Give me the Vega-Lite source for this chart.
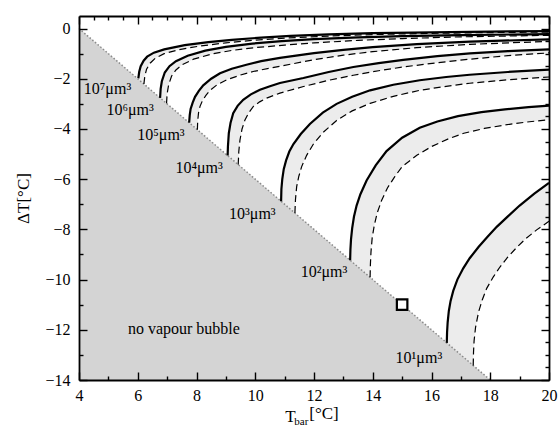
{
  "$schema": "https://vega.github.io/schema/vega-lite/v6.json",
  "width": 470,
  "height": 364,
  "autosize": "none",
  "padding": {"left": 79, "top": 16, "right": 10, "bottom": 47},
  "background": "white",
  "datasets": {
    "curves": [
      {"c":"S7","k":"s","T":6.02,"dT":-1.98},{"c":"S7","k":"s","T":6.05,"dT":-1.72},{"c":"S7","k":"s","T":6.1,"dT":-1.5},{"c":"S7","k":"s","T":6.2,"dT":-1.28},{"c":"S7","k":"s","T":6.32,"dT":-1.12},{"c":"S7","k":"s","T":6.55,"dT":-0.96},{"c":"S7","k":"s","T":6.9,"dT":-0.83},{"c":"S7","k":"s","T":7.6,"dT":-0.66},{"c":"S7","k":"s","T":8.4,"dT":-0.54},{"c":"S7","k":"s","T":9.2,"dT":-0.45},{"c":"S7","k":"s","T":10.2,"dT":-0.36},{"c":"S7","k":"s","T":11.2,"dT":-0.29},{"c":"S7","k":"s","T":12.5,"dT":-0.23},{"c":"S7","k":"s","T":14,"dT":-0.18},{"c":"S7","k":"s","T":16,"dT":-0.15},{"c":"S7","k":"s","T":18,"dT":-0.12},{"c":"S7","k":"s","T":20,"dT":-0.1},
      {"c":"D7","k":"d","T":6.21,"dT":-2.21},{"c":"D7","k":"d","T":6.24,"dT":-1.9},{"c":"D7","k":"d","T":6.3,"dT":-1.62},{"c":"D7","k":"d","T":6.42,"dT":-1.38},{"c":"D7","k":"d","T":6.6,"dT":-1.18},{"c":"D7","k":"d","T":6.9,"dT":-1.0},{"c":"D7","k":"d","T":7.4,"dT":-0.84},{"c":"D7","k":"d","T":8.1,"dT":-0.7},{"c":"D7","k":"d","T":9.0,"dT":-0.57},{"c":"D7","k":"d","T":10,"dT":-0.46},{"c":"D7","k":"d","T":11,"dT":-0.38},{"c":"D7","k":"d","T":12.5,"dT":-0.3},{"c":"D7","k":"d","T":14,"dT":-0.24},{"c":"D7","k":"d","T":16,"dT":-0.19},{"c":"D7","k":"d","T":18,"dT":-0.16},{"c":"D7","k":"d","T":20,"dT":-0.14},
      {"c":"S6","k":"s","T":6.76,"dT":-2.76},{"c":"S6","k":"s","T":6.78,"dT":-2.4},{"c":"S6","k":"s","T":6.82,"dT":-2.1},{"c":"S6","k":"s","T":6.92,"dT":-1.75},{"c":"S6","k":"s","T":7.08,"dT":-1.5},{"c":"S6","k":"s","T":7.3,"dT":-1.3},{"c":"S6","k":"s","T":7.7,"dT":-1.08},{"c":"S6","k":"s","T":8.3,"dT":-0.88},{"c":"S6","k":"s","T":9.0,"dT":-0.73},{"c":"S6","k":"s","T":9.9,"dT":-0.6},{"c":"S6","k":"s","T":10.9,"dT":-0.5},{"c":"S6","k":"s","T":12,"dT":-0.42},{"c":"S6","k":"s","T":13.5,"dT":-0.35},{"c":"S6","k":"s","T":15,"dT":-0.3},{"c":"S6","k":"s","T":17,"dT":-0.26},{"c":"S6","k":"s","T":20,"dT":-0.22},
      {"c":"D6","k":"d","T":6.98,"dT":-2.98},{"c":"D6","k":"d","T":7.0,"dT":-2.6},{"c":"D6","k":"d","T":7.05,"dT":-2.25},{"c":"D6","k":"d","T":7.15,"dT":-1.9},{"c":"D6","k":"d","T":7.3,"dT":-1.65},{"c":"D6","k":"d","T":7.5,"dT":-1.45},{"c":"D6","k":"d","T":7.9,"dT":-1.22},{"c":"D6","k":"d","T":8.5,"dT":-1.02},{"c":"D6","k":"d","T":9.2,"dT":-0.87},{"c":"D6","k":"d","T":10,"dT":-0.76},{"c":"D6","k":"d","T":11,"dT":-0.66},{"c":"D6","k":"d","T":12,"dT":-0.57},{"c":"D6","k":"d","T":13.5,"dT":-0.47},{"c":"D6","k":"d","T":15,"dT":-0.4},{"c":"D6","k":"d","T":17,"dT":-0.33},{"c":"D6","k":"d","T":20,"dT":-0.27},
      {"c":"S5","k":"s","T":7.75,"dT":-3.75},{"c":"S5","k":"s","T":7.77,"dT":-3.45},{"c":"S5","k":"s","T":7.8,"dT":-3.2},{"c":"S5","k":"s","T":7.87,"dT":-2.95},{"c":"S5","k":"s","T":7.95,"dT":-2.72},{"c":"S5","k":"s","T":8.08,"dT":-2.48},{"c":"S5","k":"s","T":8.23,"dT":-2.26},{"c":"S5","k":"s","T":8.5,"dT":-2.0},{"c":"S5","k":"s","T":8.8,"dT":-1.78},{"c":"S5","k":"s","T":9.2,"dT":-1.6},{"c":"S5","k":"s","T":9.7,"dT":-1.44},{"c":"S5","k":"s","T":10.2,"dT":-1.3},{"c":"S5","k":"s","T":10.84,"dT":-1.17},{"c":"S5","k":"s","T":12,"dT":-0.98},{"c":"S5","k":"s","T":13,"dT":-0.85},{"c":"S5","k":"s","T":14,"dT":-0.74},{"c":"S5","k":"s","T":15.5,"dT":-0.62},{"c":"S5","k":"s","T":17.3,"dT":-0.52},{"c":"S5","k":"s","T":20,"dT":-0.43},
      {"c":"D5","k":"d","T":8.03,"dT":-4.03},{"c":"D5","k":"d","T":8.04,"dT":-3.7},{"c":"D5","k":"d","T":8.07,"dT":-3.35},{"c":"D5","k":"d","T":8.12,"dT":-3.1},{"c":"D5","k":"d","T":8.2,"dT":-2.88},{"c":"D5","k":"d","T":8.32,"dT":-2.66},{"c":"D5","k":"d","T":8.46,"dT":-2.46},{"c":"D5","k":"d","T":8.7,"dT":-2.24},{"c":"D5","k":"d","T":9.03,"dT":-2.04},{"c":"D5","k":"d","T":9.5,"dT":-1.85},{"c":"D5","k":"d","T":9.93,"dT":-1.71},{"c":"D5","k":"d","T":10.84,"dT":-1.5},{"c":"D5","k":"d","T":12,"dT":-1.24},{"c":"D5","k":"d","T":13,"dT":-1.06},{"c":"D5","k":"d","T":14,"dT":-0.92},{"c":"D5","k":"d","T":15.5,"dT":-0.76},{"c":"D5","k":"d","T":17.3,"dT":-0.63},{"c":"D5","k":"d","T":20,"dT":-0.51},
      {"c":"S4","k":"s","T":9.06,"dT":-5.06},{"c":"S4","k":"s","T":9.07,"dT":-4.7},{"c":"S4","k":"s","T":9.1,"dT":-4.17},{"c":"S4","k":"s","T":9.16,"dT":-3.75},{"c":"S4","k":"s","T":9.25,"dT":-3.37},{"c":"S4","k":"s","T":9.4,"dT":-3.08},{"c":"S4","k":"s","T":9.59,"dT":-2.84},{"c":"S4","k":"s","T":9.85,"dT":-2.62},{"c":"S4","k":"s","T":10.16,"dT":-2.44},{"c":"S4","k":"s","T":10.5,"dT":-2.3},{"c":"S4","k":"s","T":10.84,"dT":-2.17},{"c":"S4","k":"s","T":11.64,"dT":-1.97},{"c":"S4","k":"s","T":12.5,"dT":-1.73},{"c":"S4","k":"s","T":13.34,"dT":-1.53},{"c":"S4","k":"s","T":14.2,"dT":-1.38},{"c":"S4","k":"s","T":15.04,"dT":-1.25},{"c":"S4","k":"s","T":16.2,"dT":-1.1},{"c":"S4","k":"s","T":17.31,"dT":-0.99},{"c":"S4","k":"s","T":18.6,"dT":-0.9},{"c":"S4","k":"s","T":20,"dT":-0.83},
      {"c":"D4","k":"d","T":9.42,"dT":-5.42},{"c":"D4","k":"d","T":9.44,"dT":-4.9},{"c":"D4","k":"d","T":9.48,"dT":-4.44},{"c":"D4","k":"d","T":9.55,"dT":-4.0},{"c":"D4","k":"d","T":9.65,"dT":-3.64},{"c":"D4","k":"d","T":9.78,"dT":-3.35},{"c":"D4","k":"d","T":9.93,"dT":-3.11},{"c":"D4","k":"d","T":10.15,"dT":-2.92},{"c":"D4","k":"d","T":10.39,"dT":-2.77},{"c":"D4","k":"d","T":10.84,"dT":-2.57},{"c":"D4","k":"d","T":11.64,"dT":-2.31},{"c":"D4","k":"d","T":12.5,"dT":-2.06},{"c":"D4","k":"d","T":13.34,"dT":-1.86},{"c":"D4","k":"d","T":14.2,"dT":-1.68},{"c":"D4","k":"d","T":15.04,"dT":-1.53},{"c":"D4","k":"d","T":16.2,"dT":-1.36},{"c":"D4","k":"d","T":17.31,"dT":-1.22},{"c":"D4","k":"d","T":18.6,"dT":-1.08},{"c":"D4","k":"d","T":20,"dT":-0.97},
      {"c":"S3","k":"s","T":10.88,"dT":-6.88},{"c":"S3","k":"s","T":10.89,"dT":-6.4},{"c":"S3","k":"s","T":10.92,"dT":-6.0},{"c":"S3","k":"s","T":10.97,"dT":-5.6},{"c":"S3","k":"s","T":11.05,"dT":-5.25},{"c":"S3","k":"s","T":11.16,"dT":-4.9},{"c":"S3","k":"s","T":11.3,"dT":-4.6},{"c":"S3","k":"s","T":11.55,"dT":-4.2},{"c":"S3","k":"s","T":11.86,"dT":-3.8},{"c":"S3","k":"s","T":12.3,"dT":-3.35},{"c":"S3","k":"s","T":12.77,"dT":-3.0},{"c":"S3","k":"s","T":13.3,"dT":-2.72},{"c":"S3","k":"s","T":13.91,"dT":-2.46},{"c":"S3","k":"s","T":14.7,"dT":-2.24},{"c":"S3","k":"s","T":15.6,"dT":-2.06},{"c":"S3","k":"s","T":16.5,"dT":-1.93},{"c":"S3","k":"s","T":17.3,"dT":-1.84},{"c":"S3","k":"s","T":18.6,"dT":-1.73},{"c":"S3","k":"s","T":20,"dT":-1.64},
      {"c":"D3","k":"d","T":11.35,"dT":-7.35},{"c":"D3","k":"d","T":11.37,"dT":-6.8},{"c":"D3","k":"d","T":11.41,"dT":-6.3},{"c":"D3","k":"d","T":11.48,"dT":-5.9},{"c":"D3","k":"d","T":11.58,"dT":-5.5},{"c":"D3","k":"d","T":11.75,"dT":-5.05},{"c":"D3","k":"d","T":11.98,"dT":-4.6},{"c":"D3","k":"d","T":12.3,"dT":-4.15},{"c":"D3","k":"d","T":12.77,"dT":-3.66},{"c":"D3","k":"d","T":13.3,"dT":-3.28},{"c":"D3","k":"d","T":13.91,"dT":-2.98},{"c":"D3","k":"d","T":14.7,"dT":-2.7},{"c":"D3","k":"d","T":15.6,"dT":-2.46},{"c":"D3","k":"d","T":16.5,"dT":-2.3},{"c":"D3","k":"d","T":17.3,"dT":-2.18},{"c":"D3","k":"d","T":18.6,"dT":-2.04},{"c":"D3","k":"d","T":20,"dT":-1.93},
      {"c":"S2","k":"s","T":13.23,"dT":-9.23},{"c":"S2","k":"s","T":13.24,"dT":-8.8},{"c":"S2","k":"s","T":13.26,"dT":-8.4},{"c":"S2","k":"s","T":13.3,"dT":-7.95},{"c":"S2","k":"s","T":13.36,"dT":-7.5},{"c":"S2","k":"s","T":13.45,"dT":-7.05},{"c":"S2","k":"s","T":13.58,"dT":-6.6},{"c":"S2","k":"s","T":13.79,"dT":-6.05},{"c":"S2","k":"s","T":14.1,"dT":-5.45},{"c":"S2","k":"s","T":14.47,"dT":-4.88},{"c":"S2","k":"s","T":15.0,"dT":-4.35},{"c":"S2","k":"s","T":15.6,"dT":-3.95},{"c":"S2","k":"s","T":16.2,"dT":-3.7},{"c":"S2","k":"s","T":16.9,"dT":-3.49},{"c":"S2","k":"s","T":17.7,"dT":-3.33},{"c":"S2","k":"s","T":18.5,"dT":-3.22},{"c":"S2","k":"s","T":19.3,"dT":-3.13},{"c":"S2","k":"s","T":20,"dT":-3.07},
      {"c":"D2","k":"d","T":13.91,"dT":-9.91},{"c":"D2","k":"d","T":13.92,"dT":-9.4},{"c":"D2","k":"d","T":13.94,"dT":-8.9},{"c":"D2","k":"d","T":13.98,"dT":-8.35},{"c":"D2","k":"d","T":14.05,"dT":-7.85},{"c":"D2","k":"d","T":14.15,"dT":-7.35},{"c":"D2","k":"d","T":14.3,"dT":-6.85},{"c":"D2","k":"d","T":14.5,"dT":-6.35},{"c":"D2","k":"d","T":14.75,"dT":-5.9},{"c":"D2","k":"d","T":15.0,"dT":-5.5},{"c":"D2","k":"d","T":15.5,"dT":-5.05},{"c":"D2","k":"d","T":16.0,"dT":-4.7},{"c":"D2","k":"d","T":16.6,"dT":-4.38},{"c":"D2","k":"d","T":17.1,"dT":-4.17},{"c":"D2","k":"d","T":17.8,"dT":-3.98},{"c":"D2","k":"d","T":18.5,"dT":-3.84},{"c":"D2","k":"d","T":19.2,"dT":-3.73},{"c":"D2","k":"d","T":20,"dT":-3.63},
      {"c":"S1","k":"s","T":16.52,"dT":-12.52},{"c":"S1","k":"s","T":16.53,"dT":-12.1},{"c":"S1","k":"s","T":16.55,"dT":-11.7},{"c":"S1","k":"s","T":16.59,"dT":-11.25},{"c":"S1","k":"s","T":16.65,"dT":-10.85},{"c":"S1","k":"s","T":16.74,"dT":-10.45},{"c":"S1","k":"s","T":16.88,"dT":-10.0},{"c":"S1","k":"s","T":17.08,"dT":-9.55},{"c":"S1","k":"s","T":17.3,"dT":-9.15},{"c":"S1","k":"s","T":17.6,"dT":-8.7},{"c":"S1","k":"s","T":17.9,"dT":-8.3},{"c":"S1","k":"s","T":18.22,"dT":-7.9},{"c":"S1","k":"s","T":18.6,"dT":-7.48},{"c":"S1","k":"s","T":19.0,"dT":-7.05},{"c":"S1","k":"s","T":19.5,"dT":-6.58},{"c":"S1","k":"s","T":20,"dT":-6.15},
      {"c":"D1","k":"d","T":17.42,"dT":-13.42},{"c":"D1","k":"d","T":17.43,"dT":-12.9},{"c":"D1","k":"d","T":17.45,"dT":-12.44},{"c":"D1","k":"d","T":17.5,"dT":-11.9},{"c":"D1","k":"d","T":17.6,"dT":-11.3},{"c":"D1","k":"d","T":17.73,"dT":-10.8},{"c":"D1","k":"d","T":17.88,"dT":-10.35},{"c":"D1","k":"d","T":18.1,"dT":-9.9},{"c":"D1","k":"d","T":18.33,"dT":-9.5},{"c":"D1","k":"d","T":18.6,"dT":-9.1},{"c":"D1","k":"d","T":18.9,"dT":-8.72},{"c":"D1","k":"d","T":19.2,"dT":-8.38},{"c":"D1","k":"d","T":19.58,"dT":-8.02},{"c":"D1","k":"d","T":20,"dT":-7.68}
    ],
    "tri": [{"T":4,"dT":0},{"T":18,"dT":-14}],
    "labels": [
      {"lab":"10⁷μm³","T":4.97,"dT":-2.42},
      {"lab":"10⁶μm³","T":5.74,"dT":-3.24},
      {"lab":"10⁵μm³","T":6.79,"dT":-4.24},
      {"lab":"10⁴μm³","T":8.09,"dT":-5.57},
      {"lab":"10³μm³","T":9.9,"dT":-7.37},
      {"lab":"10²μm³","T":12.34,"dT":-9.71},
      {"lab":"10¹μm³","T":15.57,"dT":-13.11}
    ]
  },
  "encoding": {
    "x": {"field":"T","type":"quantitative","scale":{"domain":[4,20],"nice":false,"zero":false},"axis":null},
    "y": {"field":"dT","type":"quantitative","scale":{"domain":[-14,0.5],"nice":false,"zero":false},"axis":null}
  },
  "layer": [
    {"data":{"name":"curves"},"transform":[{"filter":"datum.c==='S7'"}],"mark":{"type":"area","fill":"#ececec"},
     "encoding":{
       "x":{"field":"T","type":"quantitative","scale":{"domain":[4,20],"nice":false,"zero":false},
            "axis":{"orient":"bottom","zindex":2,"ticks":true,"format":"d","values":[4,4.5,5,5.5,6,6.5,7,7.5,8,8.5,9,9.5,10,10.5,11,11.5,12,12.5,13,13.5,14,14.5,15,15.5,16,16.5,17,17.5,18,18.5,19,19.5,20],
                    "labelExpr":"datum.value % 2 == 0 ? datum.label : ''",
                    "tickSize":{"condition":{"test":"datum.value % 2 == 0","value":-8},"value":-4},
                    "labelPadding":15,"title":"T","titleX":211,"titleAlign":"center","titlePadding":1}},
       "y":{"field":"dT","type":"quantitative","scale":{"domain":[-14,0.5],"nice":false,"zero":false},
            "axis":{"orient":"left","zindex":2,"ticks":true,"format":"d","values":[-14,-13.5,-13,-12.5,-12,-11.5,-11,-10.5,-10,-9.5,-9,-8.5,-8,-7.5,-7,-6.5,-6,-5.5,-5,-4.5,-4,-3.5,-3,-2.5,-2,-1.5,-1,-0.5,0],
                    "labelExpr":"datum.value % 2 == 0 ? datum.label : ''",
                    "tickSize":{"condition":{"test":"datum.value % 2 == 0","value":-8},"value":-4},
                    "labelPadding":17,"title":"ΔT[°C]","titlePadding":12}},
       "y2":{"datum":-14}}},
    {"data":{"name":"curves"},"transform":[{"filter":"datum.c==='D7'"}],"mark":{"type":"area","fill":"white"},
     "encoding":{
       "x":{"field":"T","type":"quantitative","scale":{"domain":[4,20],"nice":false,"zero":false},
            "axis":{"orient":"top","zindex":2,"ticks":true,"values":[4,4.5,5,5.5,6,6.5,7,7.5,8,8.5,9,9.5,10,10.5,11,11.5,12,12.5,13,13.5,14,14.5,15,15.5,16,16.5,17,17.5,18,18.5,19,19.5,20],
                    "labels":false,"title":null,
                    "tickSize":{"condition":{"test":"datum.value % 2 == 0","value":-8},"value":-4}}},
       "y":{"field":"dT","type":"quantitative","scale":{"domain":[-14,0.5],"nice":false,"zero":false},
            "axis":{"orient":"right","zindex":2,"ticks":true,"values":[-14,-13.5,-13,-12.5,-12,-11.5,-11,-10.5,-10,-9.5,-9,-8.5,-8,-7.5,-7,-6.5,-6,-5.5,-5,-4.5,-4,-3.5,-3,-2.5,-2,-1.5,-1,-0.5,0],
                    "labels":false,"title":null,
                    "tickSize":{"condition":{"test":"datum.value % 2 == 0","value":-8},"value":-4}}},
       "y2":{"datum":-14}}},
    {"data":{"name":"curves"},"transform":[{"filter":"datum.c==='S6'"}],"mark":{"type":"area","fill":"#ececec"},"encoding":{"y2":{"datum":-14}}},
    {"data":{"name":"curves"},"transform":[{"filter":"datum.c==='D6'"}],"mark":{"type":"area","fill":"white"},"encoding":{"y2":{"datum":-14}}},
    {"data":{"name":"curves"},"transform":[{"filter":"datum.c==='S5'"}],"mark":{"type":"area","fill":"#ececec"},"encoding":{"y2":{"datum":-14}}},
    {"data":{"name":"curves"},"transform":[{"filter":"datum.c==='D5'"}],"mark":{"type":"area","fill":"white"},"encoding":{"y2":{"datum":-14}}},
    {"data":{"name":"curves"},"transform":[{"filter":"datum.c==='S4'"}],"mark":{"type":"area","fill":"#ececec"},"encoding":{"y2":{"datum":-14}}},
    {"data":{"name":"curves"},"transform":[{"filter":"datum.c==='D4'"}],"mark":{"type":"area","fill":"white"},"encoding":{"y2":{"datum":-14}}},
    {"data":{"name":"curves"},"transform":[{"filter":"datum.c==='S3'"}],"mark":{"type":"area","fill":"#ececec"},"encoding":{"y2":{"datum":-14}}},
    {"data":{"name":"curves"},"transform":[{"filter":"datum.c==='D3'"}],"mark":{"type":"area","fill":"white"},"encoding":{"y2":{"datum":-14}}},
    {"data":{"name":"curves"},"transform":[{"filter":"datum.c==='S2'"}],"mark":{"type":"area","fill":"#ececec"},"encoding":{"y2":{"datum":-14}}},
    {"data":{"name":"curves"},"transform":[{"filter":"datum.c==='D2'"}],"mark":{"type":"area","fill":"white"},"encoding":{"y2":{"datum":-14}}},
    {"data":{"name":"curves"},"transform":[{"filter":"datum.c==='S1'"}],"mark":{"type":"area","fill":"#ececec"},"encoding":{"y2":{"datum":-14}}},
    {"data":{"name":"curves"},"transform":[{"filter":"datum.c==='D1'"}],"mark":{"type":"area","fill":"white"},"encoding":{"y2":{"datum":-14}}},
    {"data":{"name":"tri"},"mark":{"type":"area","fill":"#d4d4d4"},"encoding":{"y2":{"datum":-14}}},
    {"data":{"name":"tri"},"mark":{"type":"line","color":"#8a8a8a","strokeWidth":1.5,"strokeDash":[1.5,2]},"encoding":{}},
    {"data":{"name":"curves"},"transform":[{"filter":"datum.k==='s'"}],"mark":{"type":"line","color":"black","strokeWidth":2.2},"encoding":{"detail":{"field":"c"}}},
    {"data":{"name":"curves"},"transform":[{"filter":"datum.k==='d'"}],"mark":{"type":"line","color":"black","strokeWidth":1.2,"strokeDash":[7,4]},"encoding":{"detail":{"field":"c"}}},
    {"data":{"values":[{"T":15,"dT":-11}]},"mark":{"type":"point","shape":"square","size":110,"filled":true,"fill":"white","stroke":"black","strokeWidth":2.2,"opacity":1},"encoding":{}},
    {"data":{"name":"labels"},"mark":{"type":"text","font":"Liberation Serif","fontSize":16,"color":"black","align":"center","baseline":"middle"},"encoding":{"text":{"field":"lab"}}},
    {"data":{"values":[{"T":7.57,"dT":-11.95,"lab":"no vapour bubble"}]},"mark":{"type":"text","font":"Liberation Serif","fontSize":16,"color":"black","align":"center","baseline":"middle"},"encoding":{"text":{"field":"lab"}}},
    {"data":{"values":[{"T":11.57,"dT":-15.68,"lab":"bar"}]},"mark":{"type":"text","font":"Liberation Serif","fontSize":11,"color":"black","align":"center","baseline":"middle"},"encoding":{"text":{"field":"lab"}}},
    {"data":{"values":[{"T":11.84,"dT":-15.34,"lab":"[°C]"}]},"mark":{"type":"text","font":"Liberation Serif","fontSize":17,"color":"black","align":"left","baseline":"middle"},"encoding":{"text":{"field":"lab"}}}
  ],
  "resolve": {"scale": {"x":"shared","y":"shared"}, "axis": {"x":"independent","y":"independent"}},
  "config": {
    "view": {"stroke": null},
    "font": "Liberation Serif",
    "axis": {"domainColor":"black","domainWidth":1.8,"tickColor":"black","tickWidth":1.4,"labelFont":"Liberation Serif","labelFontSize":16,"labelColor":"black","titleFont":"Liberation Serif","titleFontSize":17,"titleFontWeight":"normal","titleColor":"black","grid":false,"labelOverlap":false,"labelFlush":false}
  }
}
